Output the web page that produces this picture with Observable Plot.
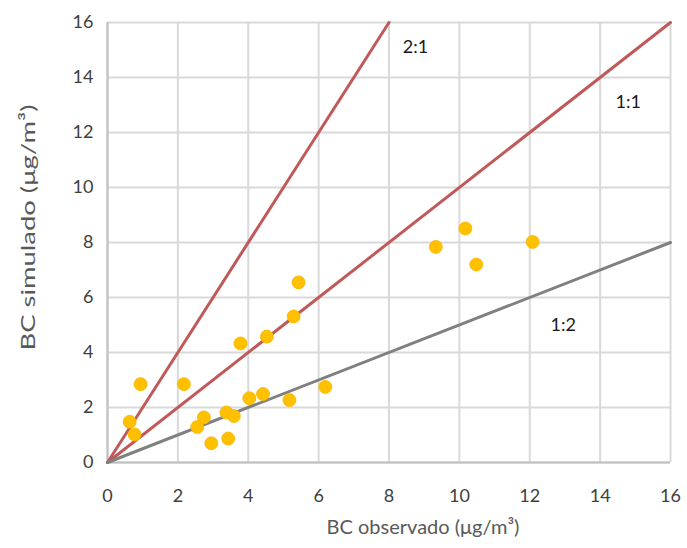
<!DOCTYPE html>
<html>
<head>
<meta charset="utf-8">
<script src="https://cdn.jsdelivr.net/npm/d3@7"></script>
<script src="https://cdn.jsdelivr.net/npm/@observablehq/plot@0.6"></script>
<style>
  html, body { margin: 0; padding: 0; background: #fff; }
  #chart svg { display: block; }
</style>
</head>
<body>
<div id="chart"></div>
<script>
// Observed vs simulated BC (µg/m³)
const obs = [0.63, 0.77, 0.94, 2.17, 2.55, 2.74, 2.95, 3.38, 3.43, 3.59, 3.78, 4.03, 4.42, 4.53, 5.17, 5.29, 5.43, 6.19, 9.33, 10.17, 10.48, 12.08];
const sim = [1.48, 1.02, 2.85, 2.85, 1.29, 1.64, 0.70, 1.82, 0.87, 1.69, 4.33, 2.34, 2.49, 4.58, 2.27, 5.31, 6.55, 2.75, 7.84, 8.51, 7.20, 8.02];

// Reference ratio lines
const ratioNames = ["2:1", "1:1", "1:2"];
const ratioSlopes = [2, 1, 0.5];
const ratioColors = ["#c05a5a", "#c05a5a", "#808080"];
const ratioLabelX = [8.75, 14.8, 12.95];
const ratioLabelY = [15.1, 13.1, 4.98];

const xTicks = [0, 2, 4, 6, 8, 10, 12, 14, 16];
const yTicks = [0, 2, 4, 6, 8, 10, 12, 14, 16];
const axisMax = 16;
const xTitle = "BC observado (μg/m³)";
const yTitle = "BC simulado (μg/m³)";

const points = obs.map((x, i) => ({x, y: sim[i]}));
const lines = ratioNames.flatMap((name, i) => {
  const s = ratioSlopes[i];
  const xe = Math.min(axisMax, axisMax / s);
  return [{name, x: 0, y: 0}, {name, x: xe, y: xe * s}];
});
const lineColor = Object.fromEntries(ratioNames.map((n, i) => [n, ratioColors[i]]));
const labels = ratioNames.map((name, i) => ({name, x: ratioLabelX[i], y: ratioLabelY[i]}));

const font = "Lato, 'Open Sans', sans-serif";

const chart = Plot.plot({
  width: 687,
  height: 548,
  marginLeft: 107,
  marginRight: 17,
  marginTop: 22,
  marginBottom: 86,
  style: {fontFamily: font, background: "#fff"},
  x: {domain: [0, axisMax]},
  y: {domain: [0, axisMax]},
  marks: [
    Plot.gridX(xTicks, {stroke: "#d9d9d9", strokeOpacity: 1, strokeWidth: 2}),
    Plot.gridY(yTicks, {stroke: "#d9d9d9", strokeOpacity: 1, strokeWidth: 2}),
    Plot.ruleX([0], {stroke: "#bfbfbf", strokeWidth: 2}),
    Plot.ruleY([0], {stroke: "#bfbfbf", strokeWidth: 2}),
    Plot.axisX(xTicks, {tickSize: 0, tickPadding: 27, fontSize: 18, fill: "#404040", label: null}),
    Plot.axisY(yTicks, {tickSize: 0, tickPadding: 14, fontSize: 18, fill: "#404040", label: null}),
    Plot.line(lines, {x: "x", y: "y", z: "name", stroke: d => lineColor[d.name], strokeWidth: 3}),
    Plot.dot(points, {x: "x", y: "y", r: 6.5, fill: "#ffc000", stroke: "#f5b800", strokeWidth: 0.8}),
    Plot.text(labels, {x: "x", y: "y", text: "name", fontSize: 18, fill: "#1a1a1a"}),
    Plot.text([xTitle], {x: axisMax / 2, y: 0, textAnchor: "middle", lineAnchor: "middle", dx: 34, dy: 65, fontSize: 20, fill: "#595959"}),
    Plot.text([yTitle], {x: 0, y: axisMax / 2, textAnchor: "middle", lineAnchor: "middle", dx: -79, dy: -15, rotate: -90, fontSize: 20, fill: "#595959"})
  ]
});
// the reference's y-axis title is drawn stretched along its length
d3.select(chart).selectAll("text")
  .filter(function() { return this.textContent === yTitle; })
  .attr("textLength", 246)
  .attr("lengthAdjust", "spacingAndGlyphs");
document.getElementById("chart").appendChild(chart);
</script>
</body>
</html>
